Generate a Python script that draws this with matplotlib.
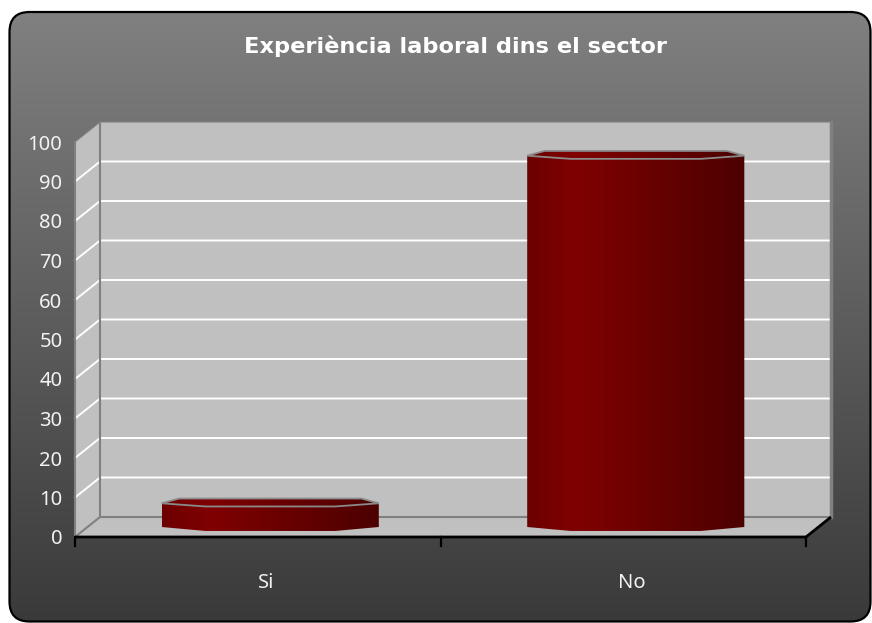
import numpy as np
import matplotlib
matplotlib.use('Agg')
import matplotlib.pyplot as plt
from matplotlib.colors import LinearSegmentedColormap
from matplotlib.patches import Polygon, Rectangle, FancyBboxPatch

plt.rcParams['font.family'] = ['Noto Sans', 'DejaVu Sans']

title = 'Experiència laboral dins el sector'
categories = ['Si', 'No']
values = [6, 94]
yticks = list(range(0, 101, 10))

fig = plt.figure(figsize=(8.72, 6.23), dpi=100)
fig.patch.set_facecolor('white')

# rounded dark frame with vertical grey gradient
bg = fig.add_axes([0, 0, 1, 1])
bg.set_xlim(0, 872)
bg.set_ylim(623, 0)
bg.axis('off')
frame = FancyBboxPatch((9.5, 12), 861, 609.5, boxstyle='round,pad=0,rounding_size=20',
                       fc='none', ec='black', lw=1.6, zorder=3)
bg.add_patch(frame)
bg_cmap = LinearSegmentedColormap.from_list('bg', ['#808080', '#3a3a3a'])
grad = np.linspace(0, 1, 256).reshape(-1, 1)
im = bg.imshow(grad, extent=[9, 871, 622, 12], cmap=bg_cmap, aspect='auto', zorder=1)
im.set_clip_path(frame)

fig.text(455 / 872, 1 - 53 / 623, title, ha='center', va='baseline',
         color='white', fontsize=16.2, fontweight='bold', family='DejaVu Sans')

# chart axes: the front plane of the 3d box
ax = fig.add_axes([75 / 872, 86 / 623, 731 / 872, 395 / 623])
ax.set_xlim(0, 2)
ax.set_ylim(0, 100)
ax.patch.set_visible(False)
for s in ax.spines.values():
    s.set_visible(False)
ax.set_xticks([])
ax.set_yticks(yticks)
ax.tick_params(axis='y', length=0, pad=9, labelcolor='#f2f2f2', labelsize=14.5)

# depth of the box in data units
DX = 25 / 365.5
DY = 20 / 3.95
wall = '#c0c0c0'
edge = '#808080'

ax.add_patch(Rectangle((DX, DY), 2, 100, fc=wall, ec='none', clip_on=False, zorder=1))
ax.add_patch(Polygon([(0, 0), (DX, DY), (DX, 100 + DY), (0, 100)],
                     fc=wall, ec='none', clip_on=False, zorder=1))
ax.add_patch(Polygon([(0, 0), (2, 0), (2 + DX, DY), (DX, DY)],
                     fc=wall, ec='none', clip_on=False, zorder=1))

for v in yticks[1:-1]:
    ax.plot([0, DX, 2 + DX], [v, v + DY, v + DY], color='white', lw=1.4,
            clip_on=False, zorder=2)

kw = dict(color=edge, lw=1.5, clip_on=False, zorder=2)
ax.plot([0, 0], [0, 100], **kw)
ax.plot([0, DX, 2 + DX], [100, 100 + DY, 100 + DY], color=edge, lw=0.8, clip_on=False, zorder=2)
ax.plot([DX, DX], [DY, 100 + DY], **kw)
ax.plot([0, DX, 2 + DX], [0, DY, DY], **kw)
ax.plot([2 + DX, 2 + DX], [DY, 100 + DY], color=edge, lw=2.5, clip_on=False, zorder=2)

# category axis
ax.plot([0, 2, 2 + DX], [0, 0, DY], color='black', lw=2, clip_on=False, zorder=6,
        solid_capstyle='butt')
for xt in [0, 1, 2]:
    ax.plot([xt, xt], [0, -2.2], color='black', lw=1.6, clip_on=False, zorder=6)

# bars, placed half way into the box
bar_cmap = LinearSegmentedColormap.from_list(
    'bar', [(0, '#6c0000'), (0.22, '#800000'), (1, '#4c0000')])
hgrad = np.linspace(0, 1, 256).reshape(1, -1)
w = 0.594
base = DY / 2
for i, v in enumerate(values):
    cx = i + 0.5 + DX / 2
    x0, x1 = cx - w / 2, cx + w / 2
    top = base + v
    outline = [(x0, base), (x0 + 0.2 * w, base - 1), (x1 - 0.2 * w, base - 1), (x1, base),
               (x1, top), (x1 - 0.08 * w, top + 1.2), (x0 + 0.08 * w, top + 1.2), (x0, top)]
    body = Polygon(outline, fc='none', ec='none', clip_on=False, zorder=4)
    ax.add_patch(body)
    bim = ax.imshow(hgrad, extent=[x0, x1, base - 1, top + 1.2], cmap=bar_cmap,
                    aspect='auto', zorder=4, clip_on=True)
    bim.set_clip_path(body)
    cap = [(x0, top), (x0 + 0.08 * w, top + 1.2), (x1 - 0.08 * w, top + 1.2), (x1, top),
           (x1 - 0.2 * w, top - 0.8), (x0 + 0.2 * w, top - 0.8)]
    ax.add_patch(Polygon(cap, closed=True, fc='none', ec='#8a8a8a', lw=1.3,
                         clip_on=False, zorder=5))

ax.set_xlim(0, 2)
ax.set_ylim(0, 100)

for i, c in enumerate(categories):
    ax.annotate(c, xy=(i + 0.5, 0), xytext=(6, -33), textcoords='offset points',
                ha='center', va='center', color='#f2f2f2', fontsize=14.5)

fig.savefig('out.png', dpi=100)
